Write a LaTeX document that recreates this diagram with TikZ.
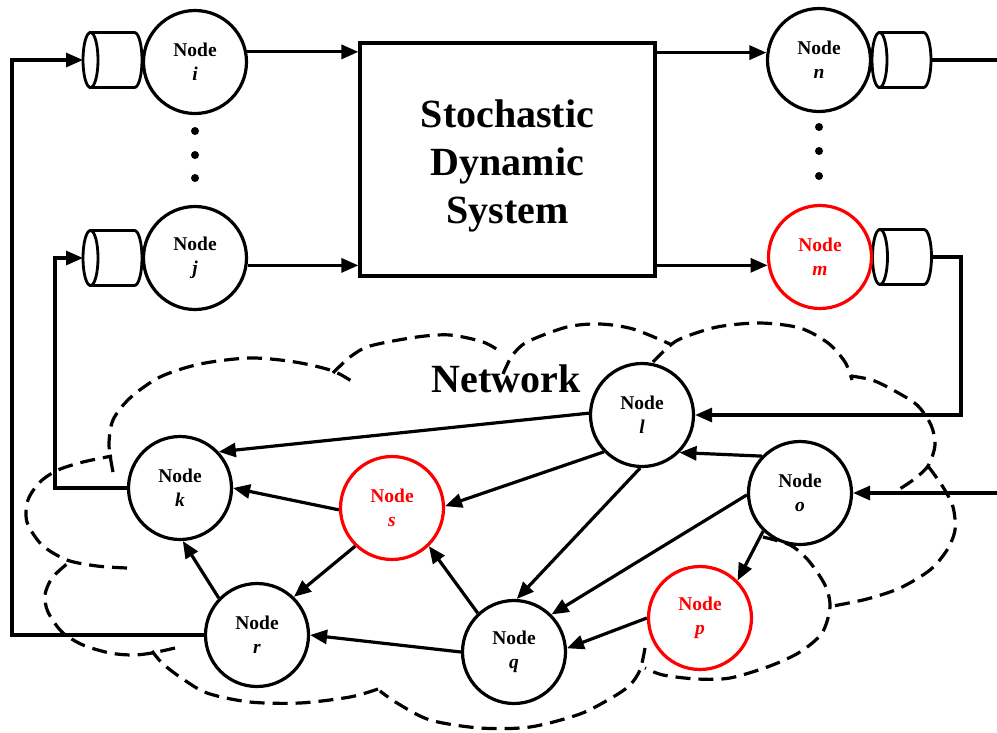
\documentclass[tikz,border=0pt]{standalone}
\usepackage{fontspec}
\setmainfont{Liberation Serif}
\usetikzlibrary{arrows.meta}
\begin{document}
\begin{tikzpicture}[x=1pt,y=-1pt,
  netnode/.style={circle, draw, line width=3.2pt, fill=white, minimum size=103pt, inner sep=0pt, align=center, font=\bfseries\fontsize{19.5}{24}\selectfont},
  rednode/.style={netnode, draw=red, text=red},
  arr/.style={line width=3.2pt, -{Triangle[length=17pt,width=14pt]}},
  plainline/.style={line width=3.2pt},
  cloudline/.style={line width=3.2pt, dash pattern=on 15pt off 8pt},
  dotmark/.style={circle, fill=black, minimum size=8pt, inner sep=0pt},
  queue/.pic={
    \draw[line width=2.8pt, fill=white] (0,-27.5) -- (44,-27.5) arc(-90:90:7.5 and 27.5) -- (0,27.5) -- cycle;
    \draw[line width=2.8pt, fill=white] (0,0) ellipse (7.5 and 27.5);
  }
]
\useasboundingbox (0,0) rectangle (997,732);

% ---------- cloud (dashed) ----------
\draw[cloudline] plot[smooth] coordinates {(127,568) (97,566) (67,560) (42,545) (27,522) (28,500) (40,482) (58,470) (83,462) (112,456)};
\draw[cloudline] plot[smooth] coordinates {(113,472) (109,445) (113,420) (130,398) (160,377) (200,364) (250,358) (295,362) (333,371) (356,384)};
\draw[cloudline] plot[smooth] coordinates {(333,373) (350,357) (370,346) (417,337) (450,335) (483,342) (501,352)};
\draw[cloudline] plot[smooth] coordinates {(503,374) (512,356) (527,342) (567,327) (600,324) (633,329) (670,344)};
\draw[cloudline] plot[smooth] coordinates {(653,362) (665,350) (680,339) (717,327) (760,323) (800,328) (828,343) (845,362) (852,380)};
\draw[cloudline] plot[smooth] coordinates {(851,376) (872,380) (893,390) (917,405) (931,425) (935,445) (928,466) (913,480) (898,490)};
\draw[cloudline] plot[smooth] coordinates {(928,466) (943,487) (953,507) (955,530) (947,550) (930,570) (900,588) (867,599) (833,606)};
\draw[cloudline] plot[smooth] coordinates {(763,537) (790,545) (808,560) (825,585) (830,607) (822,633) (800,652) (770,666) (730,678) (697,679) (663,675) (645,668)};
\draw[cloudline] plot[smooth] coordinates {(645,648) (640,670) (630,685) (613,697) (580,714) (530,727) (480,728) (430,720) (397,703) (380,691)};
\draw[cloudline] plot[smooth] coordinates {(378,689) (350,697) (300,703) (250,702) (207,693) (180,677) (162,663) (152,651)};
\draw[cloudline] plot[smooth] coordinates {(175,648) (152,653) (133,655) (110,653) (83,645) (62,632) (48,612) (45,595) (52,578) (68,563)};

\node[font=\bfseries\fontsize{40}{48}\selectfont, anchor=base] (nettitle) at (506,392) {Network};

% ---------- top part ----------
\node[draw, line width=3.2pt, minimum width=295pt, minimum height=233pt, inner sep=0pt] (box) at (507.5,159.5) {};
\node[font=\bfseries\fontsize{40}{48}\selectfont, align=center] (boxtext) at (507.5,166) {Stochastic\\Dynamic\\System};

\pic at (90.5,60) {queue};
\pic at (90.5,258) {queue};
\pic at (879.5,60) {queue};
\pic at (880,257) {queue};
\coordinate (qiin) at (83,60);
\coordinate (qjin) at (83,258);
\coordinate (qnout) at (931,60);
\coordinate (qmout) at (931,257);
\coordinate (nend) at (997,60);
\coordinate (oin) at (997,493);
\coordinate (fbL) at (12,300);
\coordinate (fbK) at (55,400);
\coordinate (fbM) at (961,330);

\node[netnode] (i) at (195,62) {Node\\\textit{i}};
\node[netnode] (j) at (195,258) {Node\\\textit{j}};
\node[netnode] (n) at (819,60) {Node\\\textit{n}};
\node[rednode] (m) at (820,257) {Node\\\textit{m}};

\node[dotmark] (ld1) at (195,131) {};
\node[dotmark] (ld2) at (195,155) {};
\node[dotmark] (ld3) at (195,178) {};
\node[dotmark] (rd1) at (819,127) {};
\node[dotmark] (rd2) at (819,151) {};
\node[dotmark] (rd3) at (819,176) {};

\draw[arr] (i.11) -- (i.11 -| box.west);
\draw[arr] (j.-8) -- (j.-8 -| box.west);
\draw[arr] (box.east |- n.172) -- (n.172);
\draw[arr] (box.east |- m.189) -- (m.189);
\draw[plainline] (qnout) -- (nend);

% ---------- network nodes ----------
\node[netnode] (l) at (642,415) {Node\\\textit{l}};
\node[netnode] (o) at (800,493) {Node\\\textit{o}};
\node[netnode] (k) at (180,488) {Node\\\textit{k}};
\node[rednode] (s) at (392,508) {Node\\\textit{s}};
\node[netnode] (r) at (257,635) {Node\\\textit{r}};
\node[netnode] (q) at (514,652) {Node\\\textit{q}};
\node[rednode] (p) at (700,618) {Node\\\textit{p}};

\draw[arr] (l.178) -- (k.43);
\draw[arr] (l.224) -- (s.2);
\draw[arr] (l.268) -- (q.87);
\draw[arr] (o.136) -- (l.-45);
\draw[arr] (o.182) -- (q.45);
\draw[arr] (o.226) -- (p.45);
\draw[arr] (p.180) -- (q.4);
\draw[arr] (q.133) -- (s.-46);
\draw[arr] (q.180) -- (r.0);
\draw[arr] (s.226) -- (r.46);
\draw[arr] (s.182) -- (k.0);
\draw[arr] (r.136) -- (k.-87);

% ---------- feedback / external lines ----------
\draw[arr] (r.west) -| (fbL) |- (qiin);
\draw[arr] (k.west) -| (fbK) |- (qjin);
\draw[arr] (qmout) -| (fbM) |- (l.east);
\draw[arr] (oin) -- (o.east);
\end{tikzpicture}
\end{document}
